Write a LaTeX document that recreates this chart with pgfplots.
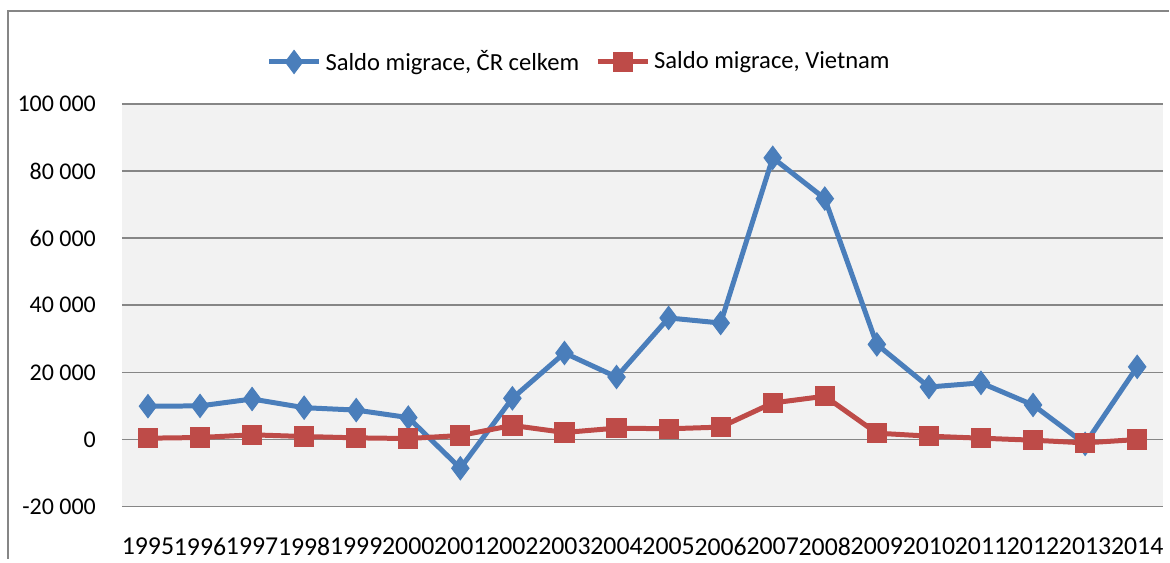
\documentclass[border=0pt]{standalone}
\usepackage{fontspec}
\setmainfont{Carlito}
\usepackage{pgfplots}
\pgfplotsset{compat=1.18}
\definecolor{czblue}{RGB}{74,126,187}
\definecolor{vnred}{RGB}{190,75,72}
\definecolor{gridgray}{RGB}{134,134,134}
\definecolor{plotbg}{RGB}{242,242,242}

\begin{document}
\begin{tikzpicture}
  % page frame, 1 px = 0.5 pt
  \path (0pt,0pt) rectangle (585pt,279.5pt);
  \draw[gridgray, line width=0.8pt] (4pt,0pt) -- (4pt,274pt) -- (585pt,274pt);
  \begin{axis}[
    at={(61pt,26pt)}, anchor=south west,
    scale only axis, width=521pt, height=201.5pt,
    xmin=-0.5, xmax=19.5, ymin=-20000, ymax=100000,
    scaled y ticks=false,
    xtick={0,...,19},
    xticklabels={1995,1996,1997,1998,1999,2000,2001,2002,2003,2004,2005,2006,2007,2008,2009,2010,2011,2012,2013,2014},
    ytick={-20000,0,20000,40000,60000,80000,100000},
    yticklabels={{-20 000},{0},{20 000},{40 000},{60 000},{80 000},{100 000}},
    ymajorgrids, grid style={gridgray, line width=0.8pt},
    axis line style={draw=none}, major tick length=0pt,
    axis background/.style={fill=plotbg},
    yticklabel style={font=\fontsize{12}{14}\selectfont, text=black, xshift=-9.5pt},
    xticklabel style={font=\fontsize{12.9}{15}\selectfont, text=black, yshift=-12pt, inner xsep=0pt},
    legend columns=2,
    legend style={at={(rel axis cs:0.44,1)}, anchor=center, yshift=21pt,
      draw=none, fill=none, font=\fontsize{12.3}{14}\selectfont,
      /tikz/every even column/.append style={column sep=6pt}},
    legend image code/.code={
      \draw[mark repeat=2, mark phase=2] plot coordinates {(0pt,0pt) (12.5pt,0pt) (25pt,0pt)};
    },
  ]
    \addplot[czblue, line width=2.5pt, mark=diamond*, mark size=5.8pt,
      mark options={solid, fill=czblue, draw=czblue, line width=0.5pt}] coordinates {
      (0,9942) (1,10015) (2,12075) (3,9488) (4,8774) (5,6539) (6,-8551) (7,12290)
      (8,25789) (9,18635) (10,36229) (11,34720) (12,83945) (13,71790) (14,28344)
      (15,15648) (16,16889) (17,10293) (18,-1297) (19,21663)
    };
    \addlegendentry{Saldo migrace, ČR celkem}
    \addplot[vnred, line width=2.5pt, mark=square*, mark size=4.8pt,
      mark options={solid, fill=vnred, draw=vnred, line width=0.5pt}] coordinates {
      (0,400) (1,600) (2,1400) (3,900) (4,500) (5,300) (6,1200) (7,4200)
      (8,2100) (9,3400) (10,3200) (11,3700) (12,10900) (13,12900) (14,1900)
      (15,1000) (16,400) (17,-200) (18,-1000) (19,0)
    };
    \addlegendentry{Saldo migrace, Vietnam}
  \end{axis}
\end{tikzpicture}
\end{document}
